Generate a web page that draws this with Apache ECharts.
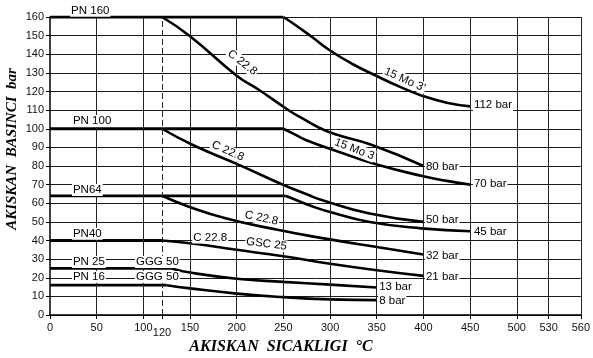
<!DOCTYPE html>
<html><head><meta charset="utf-8">
<script src="https://cdn.jsdelivr.net/npm/echarts@6/dist/echarts.min.js"></script>
<style>html,body{margin:0;padding:0;background:#fff}#c{width:593px;height:358px}</style>
</head><body><div id="c"></div>
<script>
// ---- axis ticks (the printed chart spaces 530 and 560 wider than the rest) ----
const xTickValues = [0,50,100,120,150,200,250,300,350,400,450,500,534.1,568.6];
const xTickTexts  = ['0','50','100','120','150','200','250','300','350','400','450','500','530','560'];
const xGridSolid  = [50,100,150,200,250,300,350,400,450,500,534.1,568.6];
const xGridDashed = [120];
const yMin = 0, yMax = 160, yStep = 10;

// ---- curves (temperature °C, pressure bar) ----
const pn160      = [[0,160],[250,160]];
const mo3From160 = [[250,160],[262,156],[280,149.5],[300,142],[325,134.5],[350,128.3],[375,122.5],[400,117.5],[425,114],[450,112]];
const c228From160= [[120,160],[150,149.7],[200,128.5],[224,120.8],[256,109.8],[267,106.5],[298,98.4],[345,91.3],[400,80]];
const pn100      = [[0,100],[250,100]];
const mo3From100 = [[250,100],[260,97.5],[274,94],[309,87.7],[352,80.5],[400,74.5],[425,72],[450,70]];
const c228From100= [[120,100],[153,91.3],[203,80.5],[247,70.5],[277,64.4],[291,61.7],[341,54.6],[400,50]];
const pn64       = [[0,64],[252,64]];
const mo3From64  = [[252,64],[265,61.5],[280,58.5],[300,55.3],[341,50.1],[398,46.5],[450,45]];
const c228From64 = [[120,64],[148,58.3],[188,52],[245,45.6],[295,41],[350,36.5],[400,32.5]];
const pn40Flat   = [[0,40],[120,40]];
const pn40Curve  = [[120,40],[150,38.5],[200,35],[250,31.5],[300,27.5],[350,24],[400,21]];
const pn25Flat   = [[0,25],[130,25]];
const pn25Curve  = [[130,25],[150,22.8],[200,19.5],[250,17.8],[300,16.3],[350,14.8]];
const pn16Flat   = [[0,16],[125,16]];
const pn16Curve  = [[125,16],[150,14.3],[200,11.5],[250,9.6],[300,8.4],[350,8]];

const flatLines  = [pn160, pn100, pn64, pn40Flat, pn25Flat, pn16Flat];
const curveLines = [mo3From160, c228From160, mo3From100, c228From100, mo3From64, c228From64, pn40Curve, pn25Curve, pn16Curve];

// ---- annotation texts and their anchor points in data units ----
const noteTexts = ['PN 160','PN 100','PN64','PN40','PN 25','GGG 50','PN 16','GGG 50','C 22.8','15 Mo 3\'','C 22.8','15 Mo 3','C 22.8','C 22.8','GSC 25'];
const noteAt    = [[21.5,163.3],[23.5,104.2],[23.5,67.1],[23.5,43.6],[23.5,28.5],[91,28.5],[23.5,20.4],[91,20.4],[206,135.5],[380,126.3],[190.5,88],[326,89],[226.5,52],[171.6,41.6],[231.9,38.1]];
const noteAngle = [0,0,0,0,0,0,0,0,-38,-24,-24,-21,-12,0,-7];
const noteAlign = ['left','left','left','left','left','left','left','left','center','center','center','center','center','center','center'];
const endTexts  = ['112 bar','80 bar','70 bar','50 bar','45 bar','32 bar','21 bar','13 bar','8 bar'];
const endAt     = [[453,112.8],[401.6,79.5],[453,70.3],[401.6,51],[453,44.7],[401.6,31.7],[401.6,20.6],[351.5,15.2],[351.5,7.5]];

const chart = echarts.init(document.getElementById('c'), null, {renderer:'canvas'});
const lineFont = '"Liberation Sans", Arial, sans-serif';

const series = [];
series.push({
  type:'line', data:[], silent:true, z:1,
  markLine:{
    silent:true, symbol:'none', animation:false, label:{show:false},
    data: xGridSolid.map(v=>({xAxis:v, lineStyle:{color:'#222', width:1, type:'solid'}}))
      .concat(xGridDashed.map(v=>({xAxis:v, lineStyle:{color:'#222', width:1, type:[6,3]}})))
  }
});
flatLines.forEach(d=>series.push({type:'line', data:d, symbol:'none', silent:true, z:3, animation:false,
  lineStyle:{color:'#000', width:2.8}}));
curveLines.forEach(d=>series.push({type:'line', data:d, symbol:'none', silent:true, z:3, animation:false,
  smooth:0.5, lineStyle:{color:'#000', width:2.6}}));

chart.setOption({
  animation:false,
  backgroundColor:'#fff',
  grid:{left:50, right:10, top:17, bottom:43, containLabel:false},
  xAxis:{
    type:'value', min:0, max:568.6,
    axisLine:{show:true, lineStyle:{color:'#000', width:1.5}},
    axisTick:{show:true, length:4, customValues:xTickValues, lineStyle:{color:'#000', width:1}},
    splitLine:{show:false},
    axisLabel:{
      customValues:xTickValues, margin:7, color:'#111', fontSize:11, fontFamily:lineFont,
      formatter:function(v){
        let best=0;
        xTickValues.forEach((t,i)=>{ if(Math.abs(t-v)<Math.abs(xTickValues[best]-v)) best=i; });
        const s = xTickTexts[best];
        return s==='120' ? '{low|'+s+'}' : s;
      },
      rich:{low:{fontSize:11, fontFamily:lineFont, color:'#111', padding:[5,0,0,0]}}
    }
  },
  yAxis:{
    type:'value', min:yMin, max:yMax, interval:yStep,
    axisLine:{show:true, lineStyle:{color:'#000', width:1.5}},
    axisTick:{show:true, length:4, lineStyle:{color:'#000'}},
    splitLine:{show:true, lineStyle:{color:'#1a1a1a', width:1}},
    axisLabel:{margin:6, color:'#111', fontSize:11, fontFamily:lineFont}
  },
  series: series
});

function px(p){ return chart.convertToPixel({xAxisIndex:0, yAxisIndex:0}, p); }
const graphics = [];
noteTexts.forEach((t,i)=>{
  const p = px(noteAt[i]);
  graphics.push({type:'text', x:p[0], y:p[1], rotation:noteAngle[i]*Math.PI/180, z:10,
    style:{text:t, font:'11.5px '+lineFont, fill:'#000', align:noteAlign[i], verticalAlign:'middle',
      backgroundColor:'#fff', padding:[0,1,0,1]}});
});
endTexts.forEach((t,i)=>{
  const p = px(endAt[i]);
  graphics.push({type:'text', x:p[0], y:p[1], z:10,
    style:{text:t, font:'11.5px '+lineFont, fill:'#000', align:'left', verticalAlign:'middle',
      backgroundColor:'#fff', padding:[0,1,0,1]}});
});
graphics.push({type:'text', x:281, y:347, z:10,
  style:{text:'AKISKAN  SICAKLIGI  °C', font:'italic bold 16px "Liberation Serif", "Times New Roman", serif',
    fill:'#000', align:'center', verticalAlign:'middle'}});
graphics.push({type:'text', x:12, y:149, rotation:Math.PI/2, z:10,
  style:{text:'AKISKAN  BASINCI  bar', font:'italic bold 15px "Liberation Serif", "Times New Roman", serif',
    fill:'#000', align:'center', verticalAlign:'middle'}});
chart.setOption({graphic:graphics});
</script></body></html>
